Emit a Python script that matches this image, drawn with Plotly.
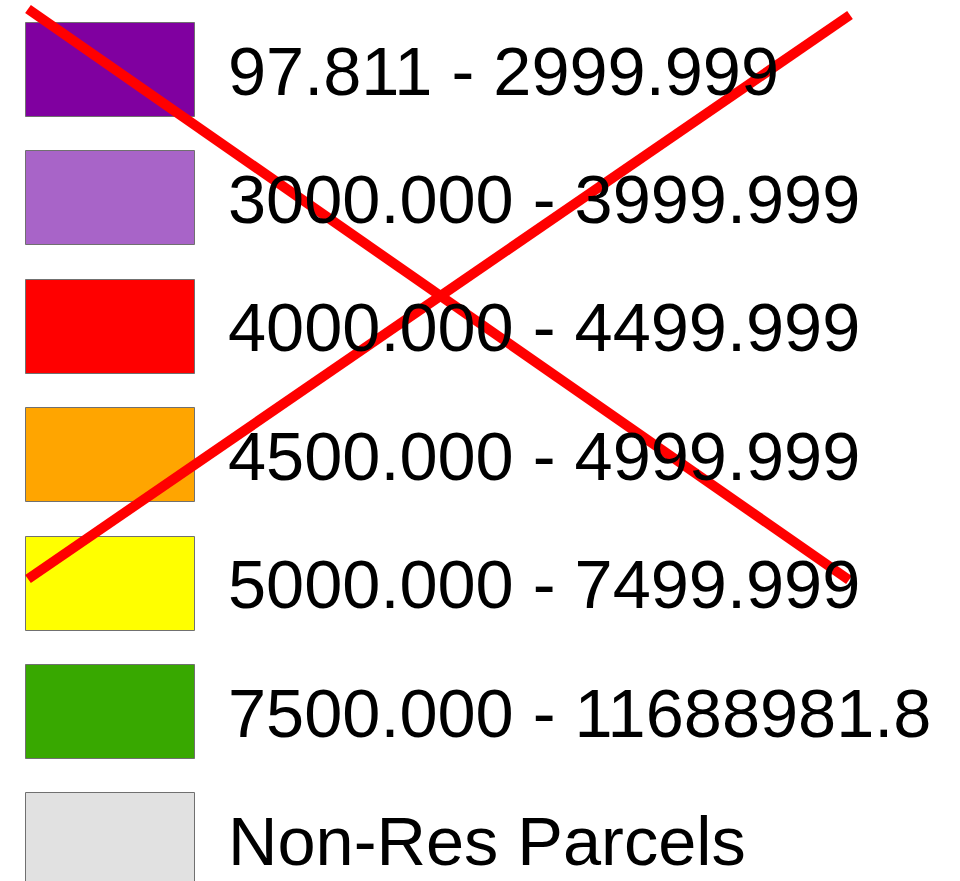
import plotly.graph_objects as go

# ---- data ----
categories = [
    "97.811 - 2999.999",
    "3000.000 - 3999.999",
    "4000.000 - 4499.999",
    "4500.000 - 4999.999",
    "5000.000 - 7499.999",
    "7500.000 - 11688981.8",
    "Non-Res Parcels",
]
colors = ["#8000A0", "#A864C8", "#FF0000", "#FFA500", "#FFFF00", "#38A800", "#E1E1E1"]

# red "X" overlay (pixel space of the picture)
cross_a_x = [28, 849]
cross_a_y = [9, 580]
cross_b_x = [28, 850]
cross_b_y = [579, 15]

# ---- layout constants ----
W, H = 960, 881
row_px = 128.4
first_center_px = 70
swatch_left = 26
swatch_w = 169
text_x = 227
ymin = -first_center_px / row_px
ymax = ymin + H / row_px

fig = go.Figure()
fig.add_trace(go.Bar(
    y=categories, x=[swatch_w] * len(categories), base=swatch_left,
    orientation="h", width=94 / row_px,
    marker=dict(color=colors, line=dict(color="#707070", width=1)),
    hoverinfo="skip", showlegend=False,
))
for cat in categories:
    fig.add_annotation(
        x=text_x, y=cat, xref="x", yref="y", text=cat, showarrow=False,
        xanchor="left", yanchor="middle", yshift=-1, borderpad=0,
        font=dict(family="Liberation Sans, Arial, sans-serif", size=68.5, color="#000000"),
    )
for xs, ys in [(cross_a_x, cross_a_y), (cross_b_x, cross_b_y)]:
    fig.add_trace(go.Scatter(
        x=xs, y=ys, mode="lines", xaxis="x2", yaxis="y2",
        line=dict(color="#FF0000", width=10),
        hoverinfo="skip", showlegend=False,
    ))

fig.update_layout(
    width=W, height=H, margin=dict(l=0, r=0, t=0, b=0),
    paper_bgcolor="white", plot_bgcolor="white",
    xaxis=dict(range=[0, W], visible=False, fixedrange=True),
    yaxis=dict(type="category", range=[ymax, ymin], visible=False, fixedrange=True),
    xaxis2=dict(range=[0, W], visible=False, overlaying="x", fixedrange=True),
    yaxis2=dict(range=[H, 0], visible=False, overlaying="y", fixedrange=True),
    bargap=0,
)
fig.write_html(
    "out.html",
    config={"displayModeBar": False},
    post_script="document.body.style.margin='0';document.body.style.overflow='hidden';",
)
